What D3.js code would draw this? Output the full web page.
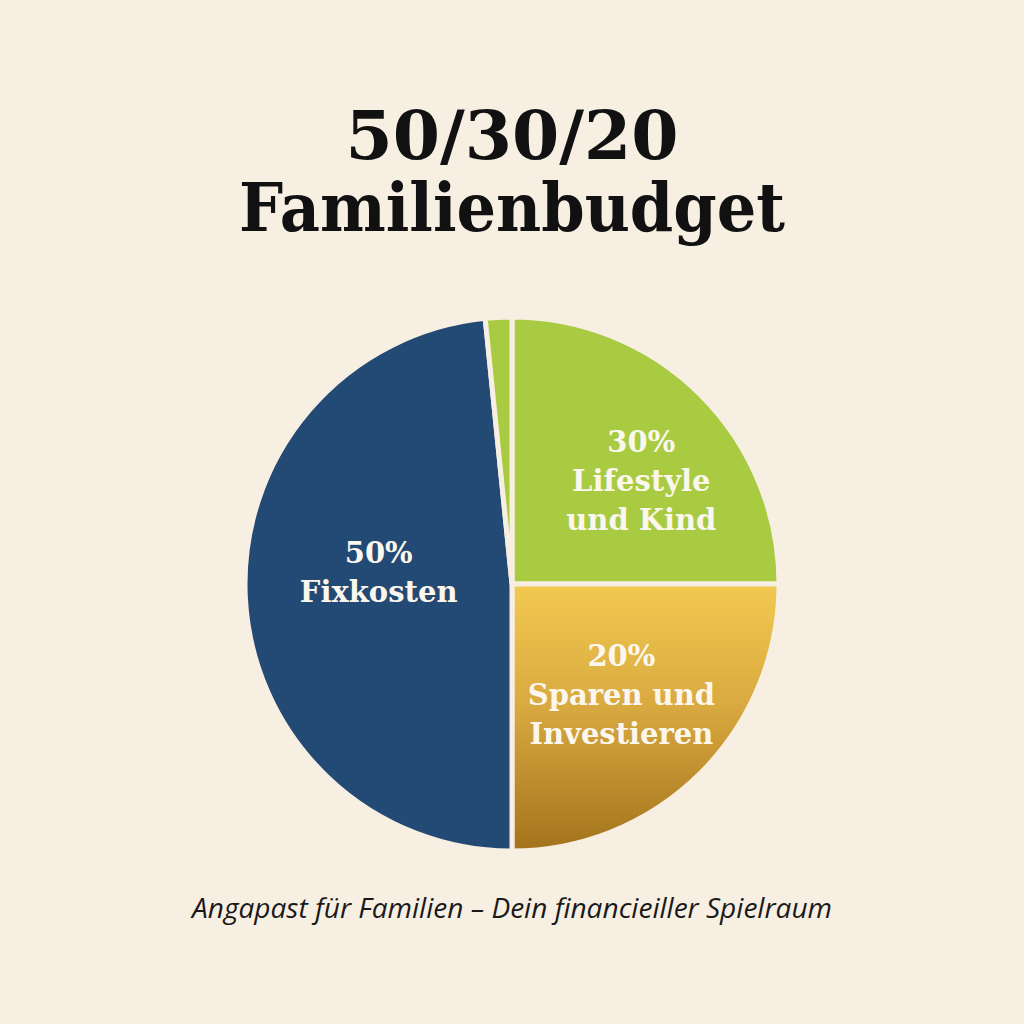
<!DOCTYPE html>
<html>
<head>
<meta charset="utf-8">
<script src="https://cdn.jsdelivr.net/npm/d3@7"></script>
<style>
  html, body { margin: 0; padding: 0; background: #f8efe3; }
  svg { display: block; }
</style>
</head>
<body>
<svg id="chart"></svg>
<script>
(function budgetPie() {

  // slices clockwise from 12 o'clock, as they appear in the picture
  var sliceNames = ['Lifestyle und Kind', 'Sparen und Investieren', 'Fixkosten', 'Lifestyle und Kind (Rest)'];
  var sliceValues = [25, 25, 48.4, 1.6];
  var sliceColors = ['#a8cb42', 'url(#goldGrad)', '#234a74', '#a8cb42'];

  // labels drawn on the three big slices
  var labelSlices = [0, 1, 2];
  var labelLines = [
    ['30%', 'Lifestyle', 'und Kind'],
    ['20%', 'Sparen und', 'Investieren'],
    ['50%', 'Fixkosten']
  ];

  var titleLines = ['50/30/20', 'Familienbudget'];
  var subtitle = 'Angapast für Familien – Dein financieiller Spielraum';

  //--------------------------------------------------

  var width = 1024,
    height = 1024,
    cx = 512,
    cy = 584,
    radius = 267;

  // label placement: radius factor and a small nudge from the centroid
  var labelRadius = [0.6, 0.59, 0.5];
  var labelNudge = [[16, 10], [-2, 0], [0, -18]];
  var titleWidths = [333, 546];

  var svg = d3.select('#chart')
    .attr('width', width)
    .attr('height', height);

  svg.append('rect')
    .attr('width', width)
    .attr('height', height)
    .attr('fill', '#f8efe3');

  var defs = svg.append('defs');
  var grad = defs.append('linearGradient')
    .attr('id', 'goldGrad')
    .attr('gradientUnits', 'userSpaceOnUse')
    .attr('x1', 0).attr('y1', 0)
    .attr('x2', 0).attr('y2', radius);
  grad.append('stop').attr('offset', '0%').attr('stop-color', '#f2c951');
  grad.append('stop').attr('offset', '45%').attr('stop-color', '#d9aa40');
  grad.append('stop').attr('offset', '100%').attr('stop-color', '#a3731c');

  // title
  svg.append('g')
    .selectAll('text')
    .data(titleLines)
    .enter().append('text')
    .attr('x', width / 2)
    .attr('y', function(d, i) { return 159 + i * 72; })
    .attr('text-anchor', 'middle')
    .attr('textLength', function(d, i) { return titleWidths[i]; })
    .attr('lengthAdjust', 'spacingAndGlyphs')
    .style('font-family', '"DejaVu Serif", serif')
    .style('font-weight', 'bold')
    .style('font-size', '67px')
    .style('fill', '#111')
    .text(function(d) { return d; });

  // pie
  var pie = d3.pie()
    .sort(null)
    .startAngle(0)
    .endAngle(2 * Math.PI)
    .value(function(d) { return d; });

  var arc = d3.arc()
    .outerRadius(radius)
    .innerRadius(0);

  var arcsData = pie(sliceValues);

  var g = svg.append('g')
    .attr('transform', 'translate(' + cx + ',' + cy + ')');

  g.selectAll('.arc')
    .data(arcsData)
    .enter().append('path')
    .attr('class', 'arc')
    .attr('d', arc)
    .style('fill', function(d, i) { return sliceColors[i]; })
    .style('stroke', '#f8efe3')
    .style('stroke-width', '5px')
    .style('stroke-linejoin', 'round');

  // slice labels
  var lineHeight = 39;
  var labels = g.selectAll('.label')
    .data(labelSlices)
    .enter().append('text')
    .attr('class', 'label')
    .attr('text-anchor', 'middle')
    .style('font-family', '"DejaVu Serif", serif')
    .style('font-weight', 'bold')
    .style('font-size', '29px')
    .style('fill', '#fbf7ee')
    .attr('transform', function(s, k) {
      var r = radius * labelRadius[k];
      var c = d3.arc().innerRadius(r).outerRadius(r).centroid(arcsData[s]);
      return 'translate(' + (c[0] + labelNudge[k][0]) + ',' + (c[1] + labelNudge[k][1]) + ')';
    });

  labels.each(function(s, k) {
    var lines = labelLines[k];
    var offset = -(lines.length - 1) / 2 * lineHeight + 10;
    d3.select(this).selectAll('tspan')
      .data(lines)
      .enter().append('tspan')
      .attr('x', 0)
      .attr('y', function(d, i) { return offset + i * lineHeight; })
      .text(function(d) { return d; });
  });

  // subtitle
  svg.append('text')
    .attr('x', width / 2)
    .attr('y', 918)
    .attr('text-anchor', 'middle')
    .attr('textLength', 640)
    .attr('lengthAdjust', 'spacingAndGlyphs')
    .style('font-family', '"Open Sans", sans-serif')
    .style('font-style', 'italic')
    .style('font-size', '28px')
    .style('fill', '#1a1a1a')
    .text(subtitle);

})();
</script>
</body>
</html>
